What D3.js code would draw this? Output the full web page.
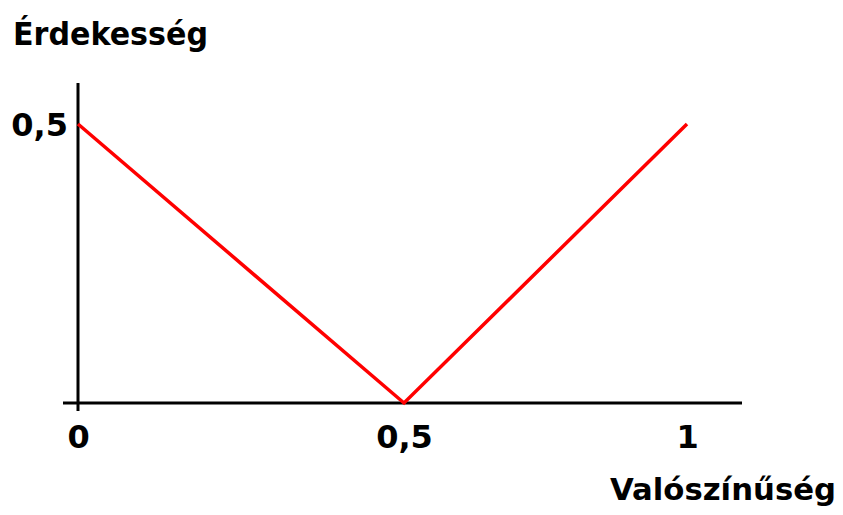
<!DOCTYPE html>
<html><head><meta charset="utf-8">
<script src="https://cdn.jsdelivr.net/npm/d3@7"></script>
<style>
html,body{margin:0;padding:0;background:#fff;}
svg{display:block;}
text{font-family:"DejaVu Sans",Verdana,sans-serif;font-weight:bold;fill:#000;}
</style></head>
<body>
<svg id="c" width="843" height="515"></svg>
<script>
const probability = [0, 0.5, 1];
const interest = [0.5, 0, 0.5];
const xTicks = [0, 0.5, 1];
const xTickLabels = ["0", "0,5", "1"];
const yTicks = [0.5];
const yTickLabels = ["0,5"];
const yTitle = "Érdekesség";
const xTitle = "Valószínűség";

const svg = d3.select("#c");
const x = d3.scaleLinear().domain([0, 0.5, 1]).range([78, 404, 687]);
const y = d3.scaleLinear().domain([0, 0.5]).range([403, 124]);

// axes lines
svg.append("line").attr("x1", x(0) - 15).attr("x2", 742).attr("y1", y(0)).attr("y2", y(0))
  .attr("stroke", "#000").attr("stroke-width", 3);
svg.append("line").attr("x1", x(0)).attr("x2", x(0)).attr("y1", 83).attr("y2", y(0) + 8)
  .attr("stroke", "#000").attr("stroke-width", 3);

// x tick labels
const xa = svg.append("g").attr("transform", `translate(0,${y(0)})`)
  .call(d3.axisBottom(x).tickValues(xTicks).tickSize(0).tickPadding(0)
    .tickFormat((d, i) => xTickLabels[i]));
xa.select(".domain").remove();
xa.selectAll("text").attr("font-size", 32).attr("dy", null).attr("y", 45)
  .style("font-family", '"DejaVu Sans",sans-serif').style("font-weight", "bold").attr("fill", "#000");

// y tick labels
const ya = svg.append("g").attr("transform", `translate(${x(0) - 10},0)`)
  .call(d3.axisLeft(y).tickValues(yTicks).tickSize(0).tickPadding(0)
    .tickFormat((d, i) => yTickLabels[i]));
ya.select(".domain").remove();
ya.selectAll("text").attr("font-size", 32).attr("dy", "0.35em")
  .style("font-family", '"DejaVu Sans",sans-serif').style("font-weight", "bold").attr("fill", "#000");

// data line
const pts = probability.map((p, i) => [p, interest[i]]);
svg.append("path").datum(pts)
  .attr("d", d3.line().x(d => x(d[0])).y(d => y(d[1])))
  .attr("fill", "none").attr("stroke", "#ff0000").attr("stroke-width", 3.5)
  .attr("stroke-linejoin", "miter");

// titles
svg.append("text").attr("x", 13).attr("y", 45).attr("font-size", 32)
  .attr("textLength", 195).attr("lengthAdjust", "spacingAndGlyphs").text(yTitle);
svg.append("text").attr("x", 610).attr("y", 500).attr("font-size", 31)
  .attr("textLength", 226).attr("lengthAdjust", "spacingAndGlyphs").text(xTitle);
</script>
</body></html>
